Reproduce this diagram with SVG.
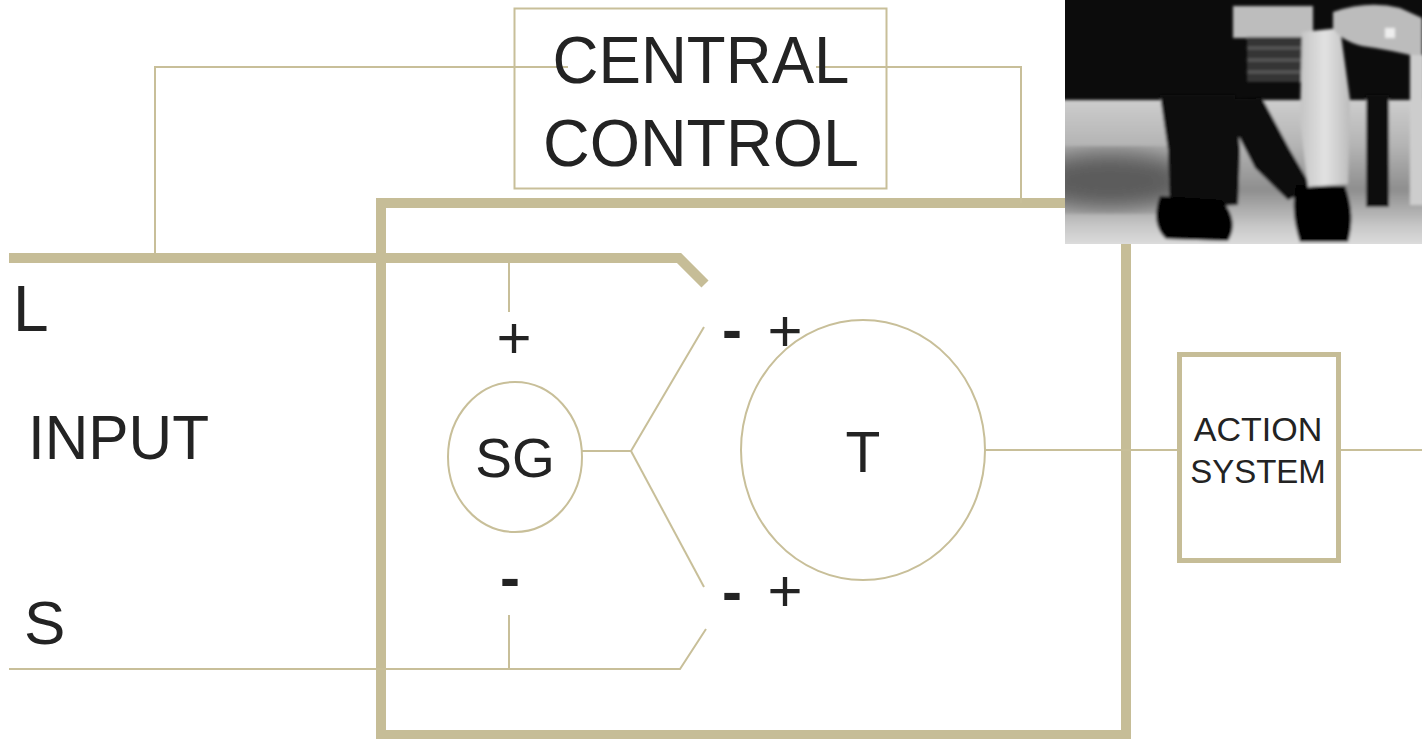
<svg xmlns="http://www.w3.org/2000/svg" width="1422" height="739" viewBox="0 0 1422 739">
<style>
.thin{fill:none;stroke:#c8bf99;stroke-width:2}
.thick{fill:none;stroke:#c6bd97;stroke-width:10}
.lbl{font-family:"Liberation Sans",Arial,Helvetica,sans-serif;fill:#232323}
.mid{text-anchor:middle}
.minus{font-weight:bold}
</style>
<defs>
<clipPath id="photoClip"><rect x="1065" y="0" width="357" height="244"/></clipPath>
<filter id="soft" x="-5%" y="-5%" width="110%" height="110%"><feGaussianBlur stdDeviation="1.6"/></filter>
<filter id="blurBig"><feGaussianBlur stdDeviation="12"/></filter>
<linearGradient id="floor" x1="0" y1="0" x2="0" y2="1">
<stop offset="0" stop-color="#cdcdcd"/>
<stop offset="0.3" stop-color="#b4b4b4"/>
<stop offset="0.6" stop-color="#8e8e8e"/>
<stop offset="0.85" stop-color="#c9c9c9"/>
<stop offset="1" stop-color="#e2e2e2"/>
</linearGradient>
<linearGradient id="trouser" x1="0" y1="0" x2="1" y2="0">
<stop offset="0" stop-color="#c4c4c4"/>
<stop offset="0.5" stop-color="#e2e2e2"/>
<stop offset="1" stop-color="#bcbcbc"/>
</linearGradient>
</defs>

<g id="frame">
<rect class="thick" x="381" y="203" width="745" height="532"/>
</g>

<g id="connectors">
<path class="thin" d="M155 258 V67 H568"/>
<path class="thin" d="M816 67 H1021 V203"/>
<path class="thick" d="M9 258 H679 L705 284"/>
<path class="thin" d="M509 263 V312"/>
<path class="thin" d="M509 615 V669"/>
<path class="thin" d="M9 669 H680 L706 629"/>
<path class="thin" d="M582 451 H631 L704 327"/>
<path class="thin" d="M631 451 L704 587"/>
<path class="thin" d="M985 450 H1179"/>
<path class="thin" d="M1341 450 H1422"/>
</g>

<g id="central-control">
<rect class="thin" x="514.5" y="8.5" width="372" height="180"/>
<text class="lbl mid" x="701" y="83" font-size="67" textLength="297" lengthAdjust="spacingAndGlyphs">CENTRAL</text>
<text class="lbl mid" x="701" y="166" font-size="67" textLength="316" lengthAdjust="spacingAndGlyphs">CONTROL</text>
</g>

<g id="input-labels">
<text class="lbl" x="13" y="331" font-size="64">L</text>
<text class="lbl" x="28" y="459" font-size="63" textLength="181" lengthAdjust="spacingAndGlyphs">INPUT</text>
<text class="lbl" x="24" y="644" font-size="62">S</text>
</g>

<g id="sg">
<ellipse class="thin" cx="515" cy="457" rx="67" ry="75"/>
<text class="lbl mid" x="515" y="477" font-size="55">SG</text>
<text class="lbl mid" x="514" y="358" font-size="60">+</text>
<text class="lbl mid minus" x="510" y="598" font-size="60">-</text>
</g>

<g id="t">
<ellipse class="thin" cx="863" cy="450" rx="122" ry="130"/>
<text class="lbl mid" x="863" y="472" font-size="57">T</text>
<text class="lbl mid minus" x="732" y="350" font-size="60">-</text>
<text class="lbl mid" x="785" y="351" font-size="60">+</text>
<text class="lbl mid minus" x="732" y="612" font-size="60">-</text>
<text class="lbl mid" x="785" y="611" font-size="60">+</text>
</g>

<g id="action-system">
<rect x="1179.5" y="354.5" width="159" height="206" fill="none" stroke="#c6bd97" stroke-width="5"/>
<text class="lbl mid" x="1258" y="441" font-size="34">ACTION</text>
<text class="lbl mid" x="1258" y="483" font-size="33">SYSTEM</text>
</g>

<g id="photo" clip-path="url(#photoClip)">
<rect x="1065" y="0" width="357" height="244" fill="#0c0c0c"/>
<g filter="url(#soft)">
<rect x="1060" y="100" width="370" height="150" fill="url(#floor)"/>
<ellipse cx="1110" cy="180" rx="80" ry="28" fill="#5a5a5a" filter="url(#blurBig)"/>
<rect x="1233" y="6" width="80" height="32" fill="#bdbdbd"/>
<rect x="1247" y="37" width="56" height="45" fill="#353535"/>
<path d="M1247 48 H1303 M1247 60 H1303 M1247 72 H1303" stroke="#5a5a5a" stroke-width="3" fill="none"/>
<path d="M1160 95 L1235 95 L1240 150 L1238 205 L1170 208 L1168 150 Z" fill="#0a0a0a"/>
<path d="M1220 100 L1262 98 L1290 150 L1312 188 L1288 200 L1255 168 Z" fill="#0a0a0a"/>
<path d="M1160 196 L1222 200 Q1240 222 1228 241 L1166 239 Q1150 224 1160 196 Z" fill="#040404"/>
<path d="M1296 185 L1345 186 Q1356 215 1348 242 L1300 242 Q1290 212 1296 185 Z" fill="#050505"/>
<path d="M1302 32 L1340 28 L1350 100 L1348 184 L1308 187 L1300 120 Z" fill="url(#trouser)"/>
<path d="M1333 12 Q1368 0 1400 8 L1422 18 L1422 58 Q1392 50 1362 46 Q1340 40 1333 28 Z" fill="#bcbcbc"/>
<rect x="1385" y="28" width="10" height="10" fill="#eeeeee"/>
<rect x="1410" y="55" width="14" height="150" fill="#cdcdcd"/>
<rect x="1366" y="95" width="23" height="112" fill="#0e0e0e"/>
</g>
</g>
</svg>
